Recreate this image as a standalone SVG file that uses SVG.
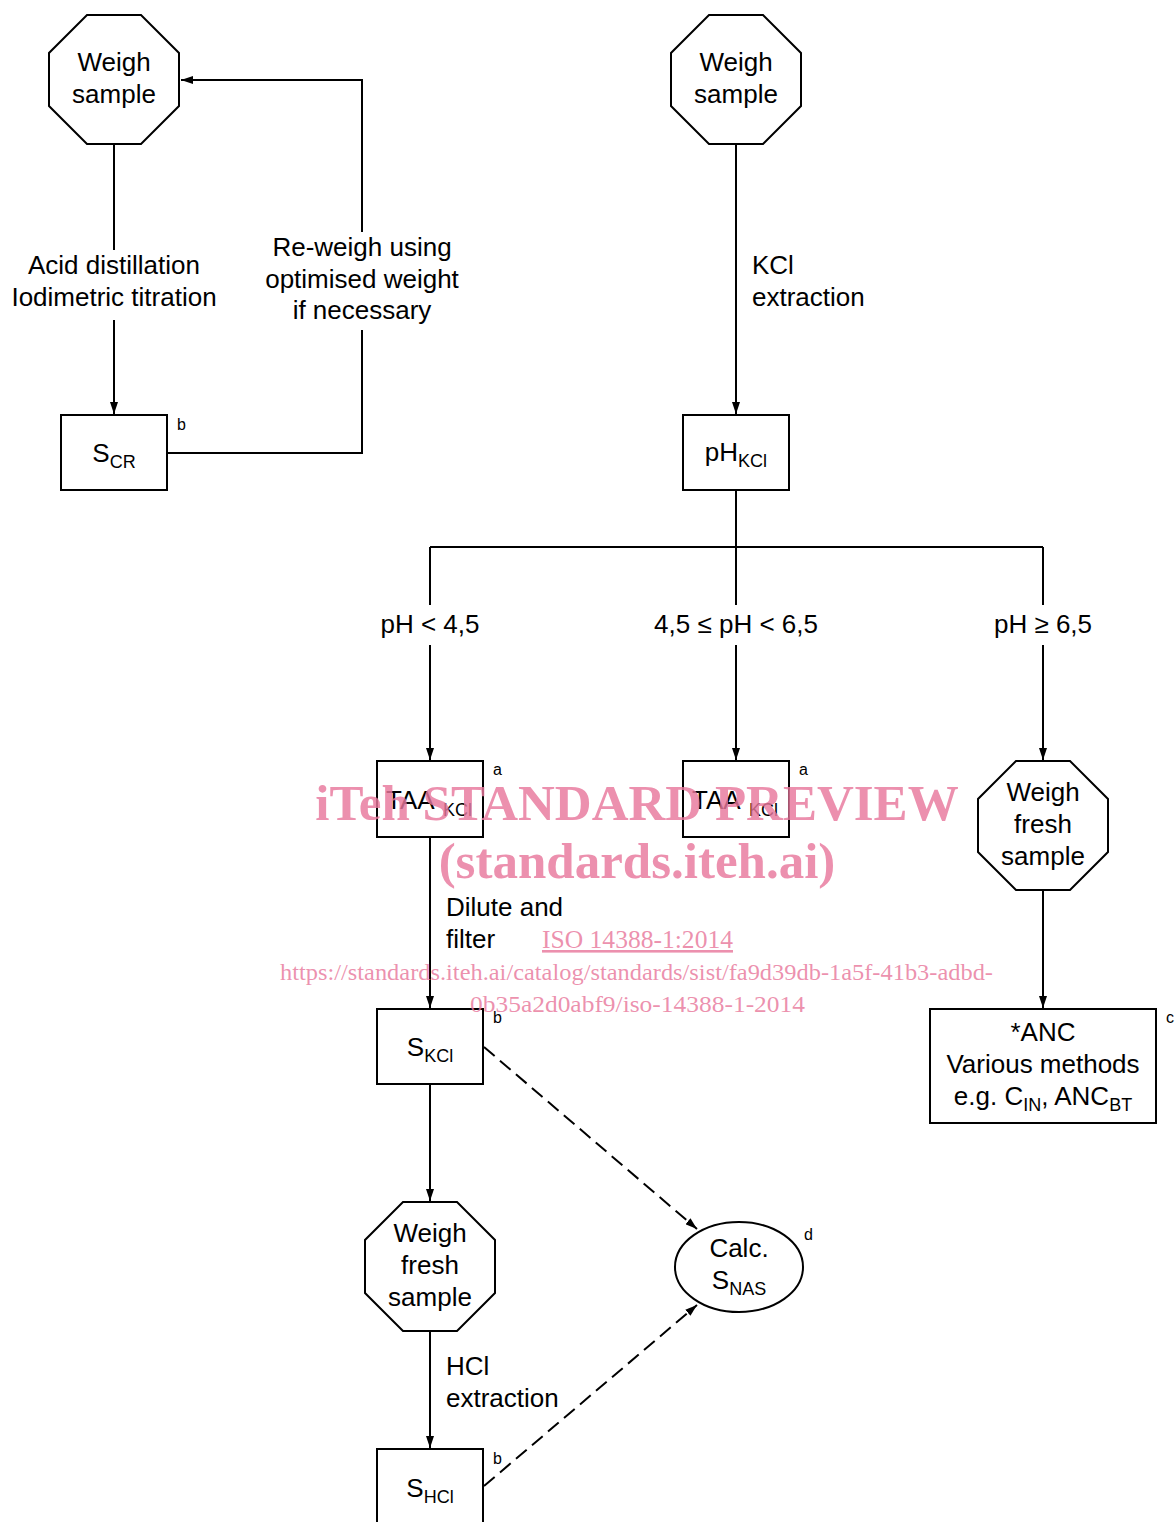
<svg xmlns="http://www.w3.org/2000/svg" xmlns:xlink="http://www.w3.org/1999/xlink" width="1176" height="1522" viewBox="0 0 1176 1522">
<style>
.t{font-family:"Liberation Sans",Arial,sans-serif;font-size:26px;fill:#000}
.m{text-anchor:middle}
.sub{font-size:18px}
.sup{font-family:"Liberation Sans",Arial,sans-serif;font-size:16px;fill:#000}
.shape{fill:#fff;stroke:#000;stroke-width:2}
.c{fill:none;stroke:#000;stroke-width:2}
.d{stroke-dasharray:14 7}
.wm{font-family:"Liberation Serif","Times New Roman",serif;fill:#e8789c;fill-opacity:0.82}
</style>
<defs>
<polygon id="oct" points="38,0 92,0 130,38 130,91 92,129 38,129 0,91 0,38"/>
<marker id="ah" markerWidth="12" markerHeight="8" refX="12" refY="4" orient="auto" markerUnits="userSpaceOnUse">
<path d="M0,0 L12,4 L0,8 Z" fill="#000"/>
</marker>
</defs>
<rect width="1176" height="1522" fill="#fff"/>

<g id="connectors">
<line class="c" x1="114" y1="144" x2="114" y2="250"/>
<line class="c" x1="114" y1="320" x2="114" y2="414" marker-end="url(#ah)"/>
<polyline class="c" points="167,453 362,453 362,330"/>
<polyline class="c" points="362,232 362,80 181,80" marker-end="url(#ah)"/>
<line class="c" x1="736" y1="144" x2="736" y2="414" marker-end="url(#ah)"/>
<line class="c" x1="736" y1="490" x2="736" y2="547"/>
<line class="c" x1="430" y1="547" x2="1043" y2="547"/>
<polyline class="c" points="430,547 430,605"/>
<line class="c" x1="430" y1="645" x2="430" y2="760" marker-end="url(#ah)"/>
<polyline class="c" points="736,547 736,605"/>
<line class="c" x1="736" y1="645" x2="736" y2="760" marker-end="url(#ah)"/>
<polyline class="c" points="1043,547 1043,605"/>
<line class="c" x1="1043" y1="645" x2="1043" y2="760" marker-end="url(#ah)"/>
<line class="c" x1="430" y1="837" x2="430" y2="1008" marker-end="url(#ah)"/>
<line class="c" x1="1043" y1="890" x2="1043" y2="1008" marker-end="url(#ah)"/>
<line class="c" x1="430" y1="1084" x2="430" y2="1201" marker-end="url(#ah)"/>
<line class="c" x1="430" y1="1331" x2="430" y2="1448" marker-end="url(#ah)"/>
<line class="c d" x1="484" y1="1047" x2="697" y2="1229" marker-end="url(#ah)"/>
<line class="c d" x1="484" y1="1486" x2="697" y2="1305" marker-end="url(#ah)"/>
</g>

<g id="labels">
<text class="t m" x="114" y="274">Acid distillation</text>
<text class="t m" x="114" y="306">Iodimetric titration</text>
<text class="t m" x="362" y="256">Re-weigh using</text>
<text class="t m" x="362" y="288">optimised weight</text>
<text class="t m" x="362" y="319">if necessary</text>
<text class="t" x="752" y="274">KCl</text>
<text class="t" x="752" y="306">extraction</text>
<text class="t m" x="430" y="633">pH &lt; 4,5</text>
<text class="t m" x="736" y="633">4,5 ≤ pH &lt; 6,5</text>
<text class="t m" x="1043" y="633">pH ≥ 6,5</text>
<text class="t" x="446" y="916">Dilute and</text>
<text class="t" x="446" y="948">filter</text>
<text class="t" x="446" y="1375">HCl</text>
<text class="t" x="446" y="1407">extraction</text>
</g>

<g id="weigh1">
<use xlink:href="#oct" href="#oct" class="shape" x="49" y="15"/>
<text class="t m" x="114" y="71">Weigh</text>
<text class="t m" x="114" y="103">sample</text>
</g>

<g id="weigh2">
<use xlink:href="#oct" href="#oct" class="shape" x="671" y="15"/>
<text class="t m" x="736" y="71">Weigh</text>
<text class="t m" x="736" y="103">sample</text>
</g>

<g id="scr">
<rect class="shape" x="61" y="415" width="106" height="75"/>
<text class="t m" x="114" y="462">S<tspan class="sub" dy="6">CR</tspan></text>
<text class="sup" x="177" y="430">b</text>
</g>

<g id="phkcl">
<rect class="shape" x="683" y="415" width="106" height="75"/>
<text class="t m" x="736" y="461">pH<tspan class="sub" dy="6">KCl</tspan></text>
</g>

<g id="taa1">
<rect class="shape" x="377" y="761" width="106" height="76"/>
<text class="t" x="386" y="809">TAA<tspan class="sub" x="443" dy="7">KCl</tspan></text>
<text class="sup" x="493" y="775">a</text>
</g>

<g id="taa2">
<rect class="shape" x="683" y="761" width="106" height="76"/>
<text class="t" x="692" y="809">TAA<tspan class="sub" x="749" dy="7">KCl</tspan></text>
<text class="sup" x="799" y="775">a</text>
</g>

<g id="weigh3">
<use xlink:href="#oct" href="#oct" class="shape" x="978" y="761"/>
<text class="t m" x="1043" y="801">Weigh</text>
<text class="t m" x="1043" y="833">fresh</text>
<text class="t m" x="1043" y="865">sample</text>
</g>

<g id="anc">
<rect class="shape" x="930" y="1009" width="226" height="114"/>
<text class="t m" x="1043" y="1041">*ANC</text>
<text class="t m" x="1043" y="1073">Various methods</text>
<text class="t m" x="1043" y="1105">e.g. C<tspan class="sub" dy="6">IN</tspan><tspan dy="-6">, ANC</tspan><tspan class="sub" dy="6">BT</tspan></text>
<text class="sup" x="1166" y="1023">c</text>
</g>

<g id="skcl">
<rect class="shape" x="377" y="1009" width="106" height="75"/>
<text class="t m" x="430" y="1056">S<tspan class="sub" dy="6">KCl</tspan></text>
<text class="sup" x="493" y="1023">b</text>
</g>

<g id="weigh4">
<use xlink:href="#oct" href="#oct" class="shape" x="365" y="1202"/>
<text class="t m" x="430" y="1242">Weigh</text>
<text class="t m" x="430" y="1274">fresh</text>
<text class="t m" x="430" y="1306">sample</text>
</g>

<g id="calc">
<ellipse class="shape" cx="739" cy="1267" rx="64" ry="45"/>
<text class="t m" x="739" y="1257">Calc.</text>
<text class="t m" x="739" y="1289">S<tspan class="sub" dy="6">NAS</tspan></text>
<text class="sup" x="804" y="1240">d</text>
</g>

<g id="shcl">
<rect class="shape" x="377" y="1449" width="106" height="80"/>
<text class="t m" x="430" y="1497">S<tspan class="sub" dy="6">HCl</tspan></text>
<text class="sup" x="493" y="1464">b</text>
</g>

<g id="watermark">
<text class="wm m" x="637" y="820" font-size="51" font-weight="bold">iTeh STANDARD PREVIEW</text>
<text class="wm m" x="637" y="878" font-size="51" font-weight="bold">(standards.iteh.ai)</text>
<text class="wm" x="542" y="948" font-size="26" textLength="191" lengthAdjust="spacingAndGlyphs" text-decoration="underline">ISO 14388-1:2014</text>
<text class="wm" x="280" y="980" font-size="24" textLength="713" lengthAdjust="spacingAndGlyphs">https://standards.iteh.ai/catalog/standards/sist/fa9d39db-1a5f-41b3-adbd-</text>
<text class="wm" x="470" y="1012" font-size="24" textLength="335" lengthAdjust="spacingAndGlyphs">0b35a2d0abf9/iso-14388-1-2014</text>
</g>
</svg>
